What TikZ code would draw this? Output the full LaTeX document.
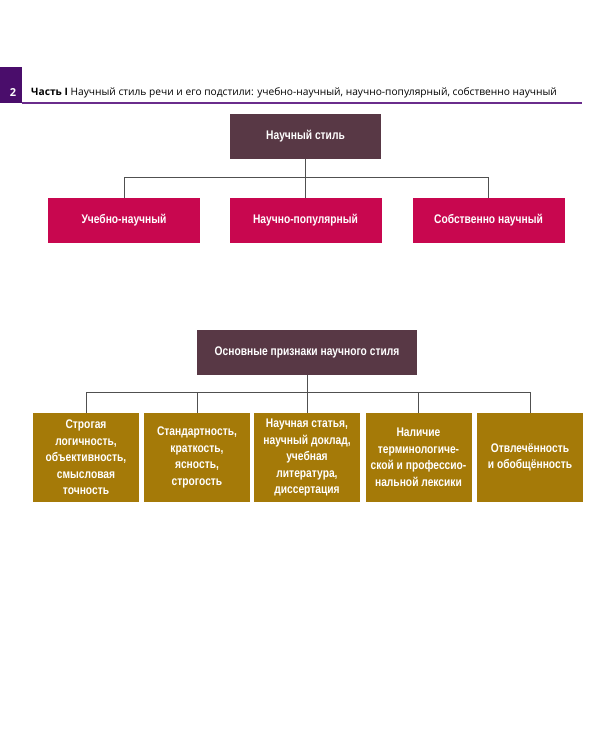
\documentclass[tikz,border=0pt]{standalone}
\usepackage{fontspec}
\setmainfont{Liberation Sans}
\newfontfamily\boxfont{Liberation Sans}[FakeStretch=0.82]
\newfontfamily\headfont{Open Sans}
\definecolor{headpurple}{HTML}{4A0D6B}
\definecolor{linepurple}{HTML}{6A2C8C}
\definecolor{darkbox}{HTML}{583845}
\definecolor{crimson}{HTML}{C8074F}
\definecolor{gold}{HTML}{A57A08}
\definecolor{wire}{HTML}{505050}
\begin{document}
\begin{tikzpicture}[x=1pt, y=-1pt,
    box/.style={text=white, inner sep=0pt, align=center,
      font=\boxfont\bfseries\fontsize{12.5}{16.5}\selectfont},
    root/.style={box, fill=darkbox, minimum height=45pt},
    kind/.style={box, fill=crimson, minimum width=152pt,
      minimum height=45pt},
    trait/.style={box, fill=gold, minimum width=106pt,
      minimum height=89pt}]
    \path[use as bounding box, fill=white] (0,0) rectangle (600,750);
    % header
    \fill[headpurple] (0,67) rectangle (22,103);
    \draw[linepurple, line width=1.5pt] (22,103) -- (582,103);
    \node[text=white, font=\headfont\bfseries\fontsize{11}{13}\selectfont]
      (num) at (13,93) {2};
    \node[anchor=west, inner sep=0pt, font=\headfont\fontsize{10.2}{12}\selectfont]
      (head) at (31,93) {\textbf{Часть I} Научный стиль речи и его подстили:
      учебно-научный, научно-популярный, собственно научный};
    % first tree
    \node[root, minimum width=151pt] (s) at (305.5,136.5) {Научный стиль};
    \begin{scope}[every node/.style={kind}]
      \node (s1) at (124,220.5) {Учебно-научный}; \node (s2) at
      (305.5,220.5) {Научно-популярный}; \node (s3) at (488.5,220.5)
      {Собственно научный};
    \end{scope}
    \coordinate (j) at (305.5,177);
    \begin{scope}[draw=wire, line width=0.6pt]
      \draw (s) -- (j); \draw (j) -| (s1); \draw (j) -| (s3); \draw
      (j) -- (s2);
    \end{scope}
    % second tree
    \node[root, minimum width=220pt] (p) at (307,352.5) {Основные
      признаки научного стиля};
    \begin{scope}[every node/.style={trait}]
      \node (p1) at (86,457.5) {Строгая\\логичность,\\объективность,\\
        смысловая\\точность}; \node (p2) at (197,457.5)
      {Стандартность,\\краткость,\\ясность,\\строгость}; \node (p3) at
      (307,457.5) {Научная статья,\\научный доклад,\\учебная\\
        литература,\\диссертация}; \node (p4) at (418.5,457.5)
      {Наличие\\терминологиче-\\ской и профессио-\\нальной лексики};
      \node (p5) at (530,457.5) {Отвлечённость\\и обобщённость};
    \end{scope}
    \coordinate (k) at (307,392);
    \begin{scope}[draw=wire, line width=0.6pt]
      \draw (p) -- (k); \draw (k) -| (p1); \draw (k) -| (p2); \draw
      (k) -- (p3); \draw (k) -| (p4); \draw (k) -| (p5);
    \end{scope}
  \end{tikzpicture}
\end{document}
